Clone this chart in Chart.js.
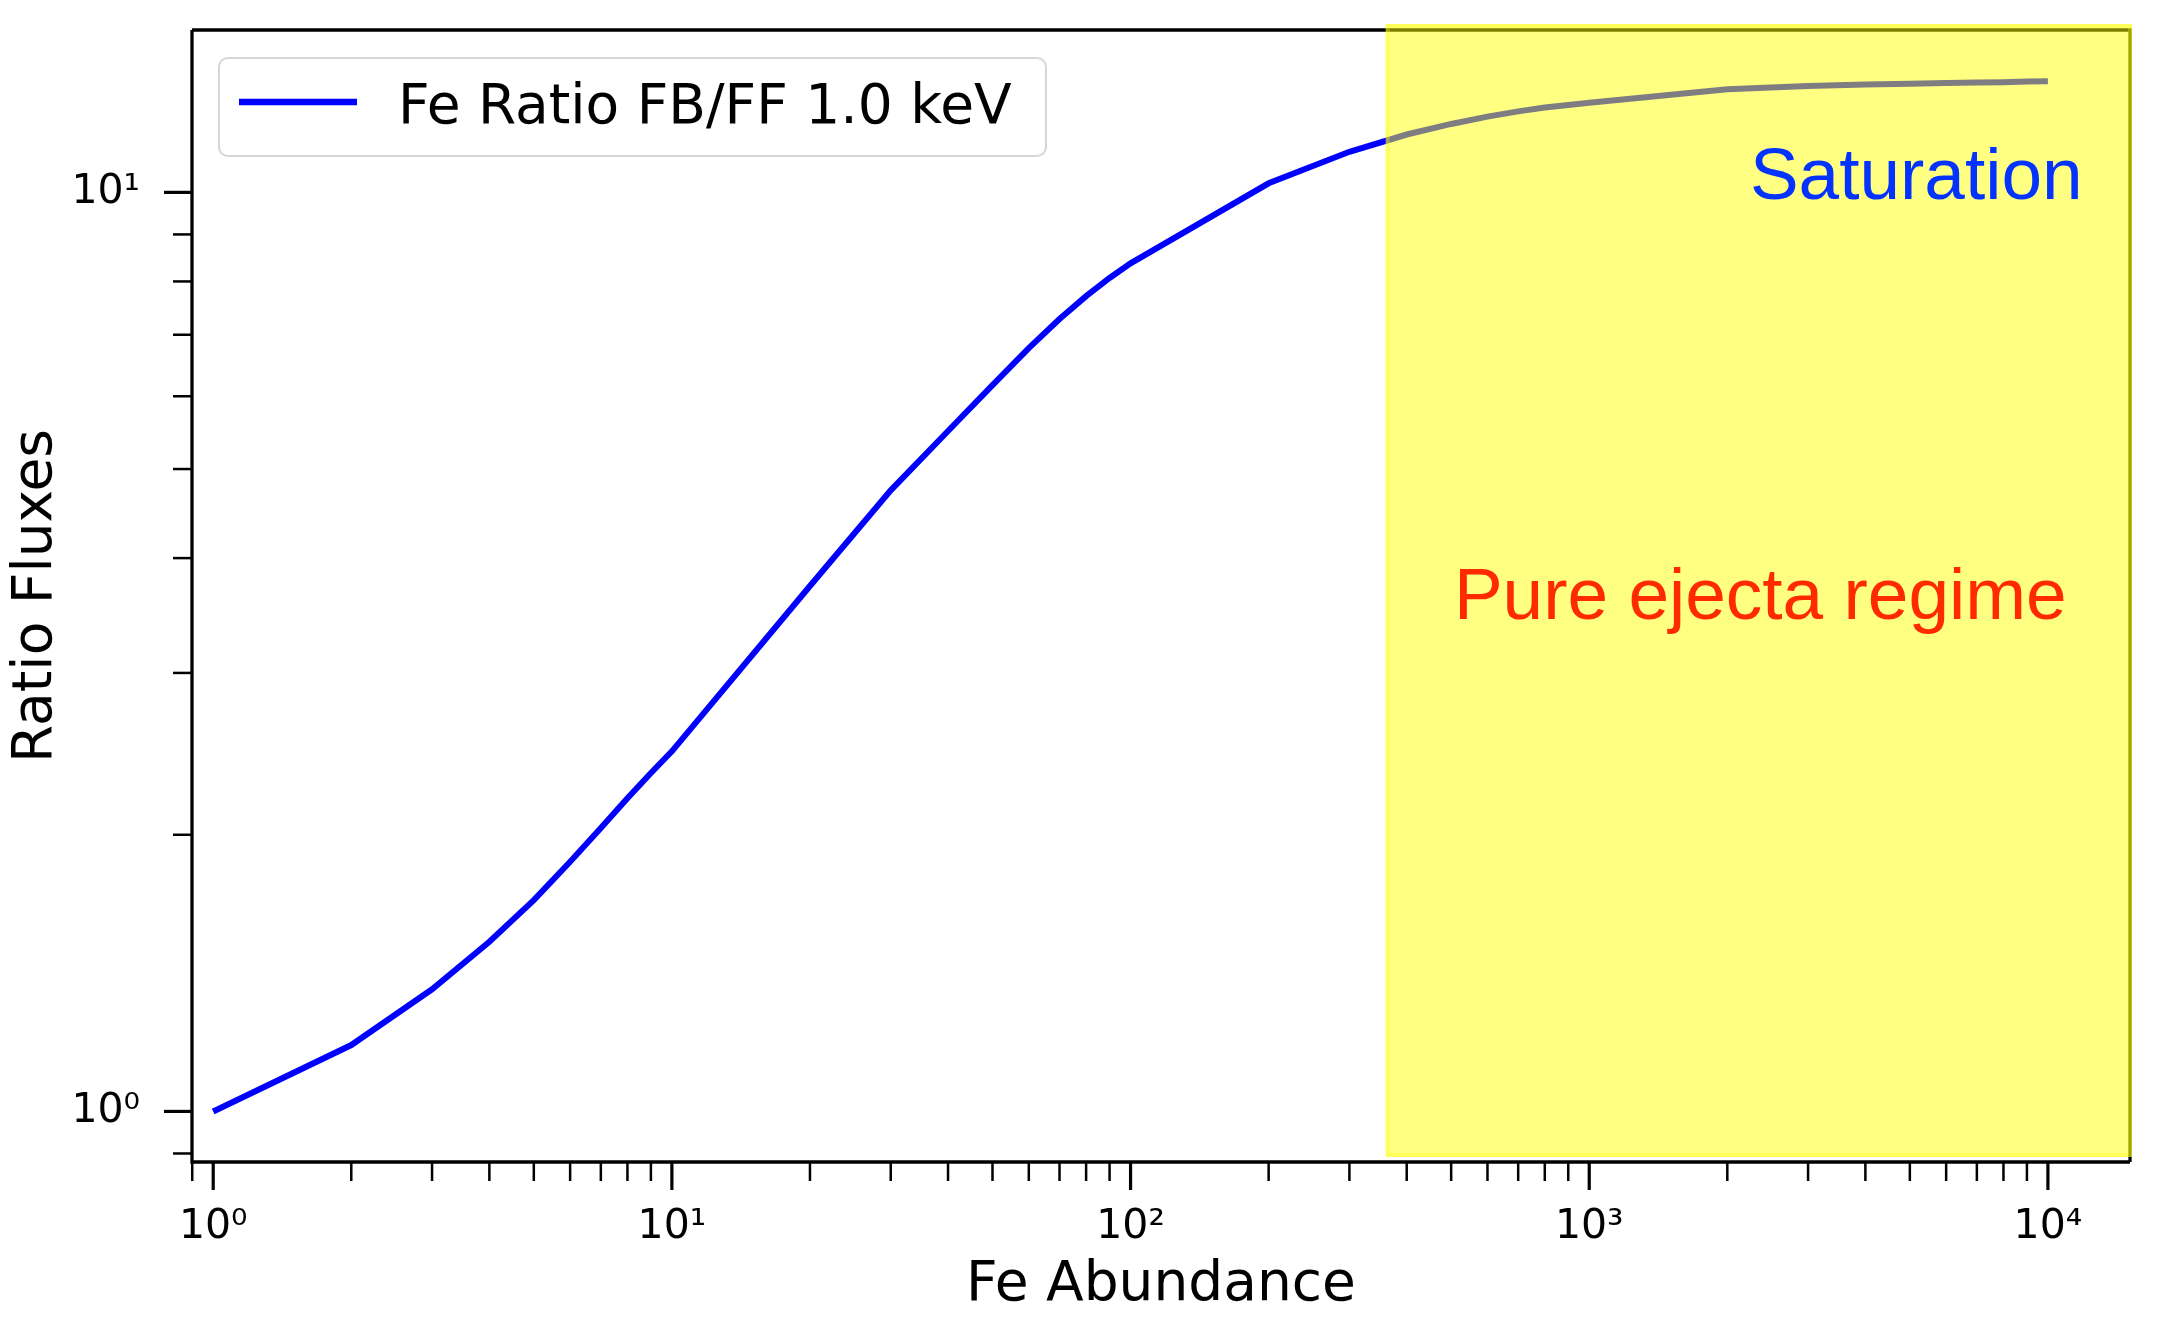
<!DOCTYPE html>
<html>
<head>
<meta charset="utf-8">
<script src="https://cdn.jsdelivr.net/npm/chart.js@4.4.1/dist/chart.umd.min.js"></script>
<style>
  html, body { margin: 0; padding: 0; background: #fff; overflow: hidden; }
  #wrap { width: 2159px; height: 1323px; position: relative; }
</style>
</head>
<body>
<div id="wrap"><canvas id="ratioChart"></canvas></div>
<script>
// Fe abundance grid and the FB/FF flux ratio
const abundance = [1, 2, 3, 4, 5, 6, 7, 8, 9, 10,
                   20, 30, 40, 50, 60, 70, 80, 90, 100,
                   200, 300, 400, 500, 600, 700, 800, 900, 1000,
                   2000, 3000, 4000, 5000, 6000, 7000, 8000, 9000, 10000];
const ratio = [1.0, 1.181, 1.358, 1.530, 1.698, 1.869, 2.034, 2.192, 2.335, 2.465,
               3.73, 4.74, 5.50, 6.17, 6.77, 7.28, 7.71, 8.07, 8.37,
               10.23, 11.07, 11.56, 11.87, 12.09, 12.25, 12.37, 12.45, 12.52,
               12.95, 13.05, 13.1, 13.13, 13.15, 13.17, 13.18, 13.2, 13.21];

// tick positions (majors at powers of ten, the rest are minor)
const xTicks = [0.9, 1, 2, 3, 4, 5, 6, 7, 8, 9, 10, 20, 30, 40, 50, 60, 70, 80, 90,
                100, 200, 300, 400, 500, 600, 700, 800, 900, 1000,
                2000, 3000, 4000, 5000, 6000, 7000, 8000, 9000, 10000];
const yTicks = [0.9, 1, 2, 3, 4, 5, 6, 7, 8, 9, 10];

// shaded region and its labels
const spanStart = 360;
const notes = [
    { text: 'Saturation', x: 2240, y: 9.83, color: '#0433ff' },
    { text: 'Pure ejecta regime', x: 507, y: 3.43, color: '#ff2a00' }
];

const SUP = { '-1': '⁻¹', 0: '⁰', 1: '¹', 2: '²', 3: '³', 4: '⁴', 5: '⁵' };
const isMajor = v => Math.abs(Math.log10(v) - Math.round(Math.log10(v))) < 1e-9;
const powLabel = v => isMajor(v) ? '10' + SUP[Math.round(Math.log10(v))] : '';

const MPL = 'DejaVu Sans';

const decor = {
    id: 'decor',
    afterDatasetsDraw(chart) {
        const { ctx, chartArea: ca, scales: { x, y } } = chart;
        ctx.save();
        ctx.strokeStyle = '#000';
        ctx.lineWidth = 3.3;
        ctx.lineCap = 'butt';

        // top and right spines sit under the yellow box
        ctx.beginPath();
        ctx.moveTo(ca.left, ca.top);
        ctx.lineTo(ca.right, ca.top);
        ctx.lineTo(ca.right, ca.bottom);
        ctx.stroke();

        // pure ejecta region
        const sx = x.getPixelForValue(spanStart);
        const sTop = ca.top - 6, sBot = ca.bottom - 5;
        ctx.fillStyle = 'rgba(255,255,0,0.49)';
        ctx.fillRect(sx, sTop, ca.right + 2 - sx, sBot - sTop);
        ctx.strokeStyle = 'rgba(255,255,0,0.3)';
        ctx.lineWidth = 4;
        ctx.strokeRect(sx + 2, sTop + 2, ca.right - sx - 2, sBot - sTop - 4);

        // left and bottom spines
        ctx.strokeStyle = '#000';
        ctx.lineWidth = 3.3;
        ctx.beginPath();
        ctx.moveTo(ca.left, ca.top);
        ctx.lineTo(ca.left, ca.bottom);
        ctx.lineTo(ca.right, ca.bottom);
        ctx.stroke();

        // tick marks, pointing outwards
        x.ticks.forEach(t => {
            const px = x.getPixelForValue(t.value);
            const major = isMajor(t.value);
            ctx.lineWidth = major ? 3.2 : 2.5;
            ctx.beginPath();
            ctx.moveTo(px, ca.bottom);
            ctx.lineTo(px, ca.bottom + (major ? 28 : 19));
            ctx.stroke();
        });
        y.ticks.forEach(t => {
            const py = y.getPixelForValue(t.value);
            const major = isMajor(t.value);
            ctx.lineWidth = major ? 3.2 : 2.5;
            ctx.beginPath();
            ctx.moveTo(ca.left, py);
            ctx.lineTo(ca.left - (major ? 28 : 19), py);
            ctx.stroke();
        });

        // legend box
        const ds = chart.data.datasets[0];
        const lx = ca.left + 27, ly = ca.top + 28, lw = 827, lh = 98;
        ctx.fillStyle = 'rgba(255,255,255,0.8)';
        ctx.strokeStyle = '#d6d6d6';
        ctx.lineWidth = 2;
        ctx.beginPath();
        ctx.roundRect(lx, ly, lw, lh, 9);
        ctx.fill();
        ctx.stroke();
        ctx.strokeStyle = ds.borderColor;
        ctx.lineWidth = 6.5;
        ctx.beginPath();
        ctx.moveTo(lx + 20, ly + 44);
        ctx.lineTo(lx + 138, ly + 44);
        ctx.stroke();
        ctx.fillStyle = '#000';
        ctx.font = '55px "' + MPL + '"';
        ctx.textBaseline = 'alphabetic';
        ctx.textAlign = 'left';
        ctx.fillText(ds.label, lx + 179, ly + 65);

        // region notes
        ctx.font = '73px "Liberation Sans"';
        notes.forEach(n => {
            ctx.fillStyle = n.color;
            ctx.fillText(n.text, x.getPixelForValue(n.x), y.getPixelForValue(n.y));
        });
        ctx.restore();
    }
};

new Chart(document.getElementById('ratioChart'), {
    type: 'line',
    data: {
        labels: abundance,
        datasets: [{
            label: 'Fe Ratio FB/FF 1.0 keV',
            data: abundance.map((a, i) => ({ x: a, y: ratio[i] })),
            borderColor: '#0000ff',
            borderWidth: 6,
            pointRadius: 0,
            tension: 0,
            fill: false
        }]
    },
    options: {
        responsive: true,
        maintainAspectRatio: false,
        animation: false,
        devicePixelRatio: 1,
        layout: { padding: { top: 30, right: 29, left: 0, bottom: 0 } },
        plugins: {
            legend: { display: false },
            tooltip: { enabled: false }
        },
        scales: {
            x: {
                type: 'logarithmic',
                min: 0.899,
                max: 15100,
                grid: { display: false, drawTicks: false },
                border: { display: false },
                afterBuildTicks: s => { s.ticks = xTicks.map(v => ({ value: v })); },
                afterFit: s => {
                    s.height = 161;
                    s.paddingLeft = 0; s.paddingRight = 0;
                },
                ticks: {
                    autoSkip: false,
                    maxRotation: 0,
                    padding: 41,
                    color: '#000',
                    font: { family: MPL, size: 41 },
                    callback: v => powLabel(v)
                },
                title: {
                    display: true,
                    text: 'Fe Abundance',
                    color: '#000',
                    font: { family: MPL, size: 55 },
                    padding: { top: 0, bottom: 4 }
                }
            },
            y: {
                type: 'logarithmic',
                min: 0.881,
                max: 15.02,
                grid: { display: false, drawTicks: false },
                border: { display: false },
                afterBuildTicks: s => { s.ticks = yTicks.map(v => ({ value: v })); },
                afterFit: s => {
                    s.width = 192;
                    s.paddingTop = 0; s.paddingBottom = 0;
                },
                ticks: {
                    autoSkip: false,
                    padding: 52,
                    color: '#000',
                    font: { family: MPL, size: 41 },
                    callback: v => powLabel(v)
                },
                title: {
                    display: true,
                    text: 'Ratio Fluxes',
                    color: '#000',
                    font: { family: MPL, size: 55 },
                    padding: { top: 4, bottom: 0 }
                }
            }
        }
    },
    plugins: [decor]
});
</script>
</body>
</html>
